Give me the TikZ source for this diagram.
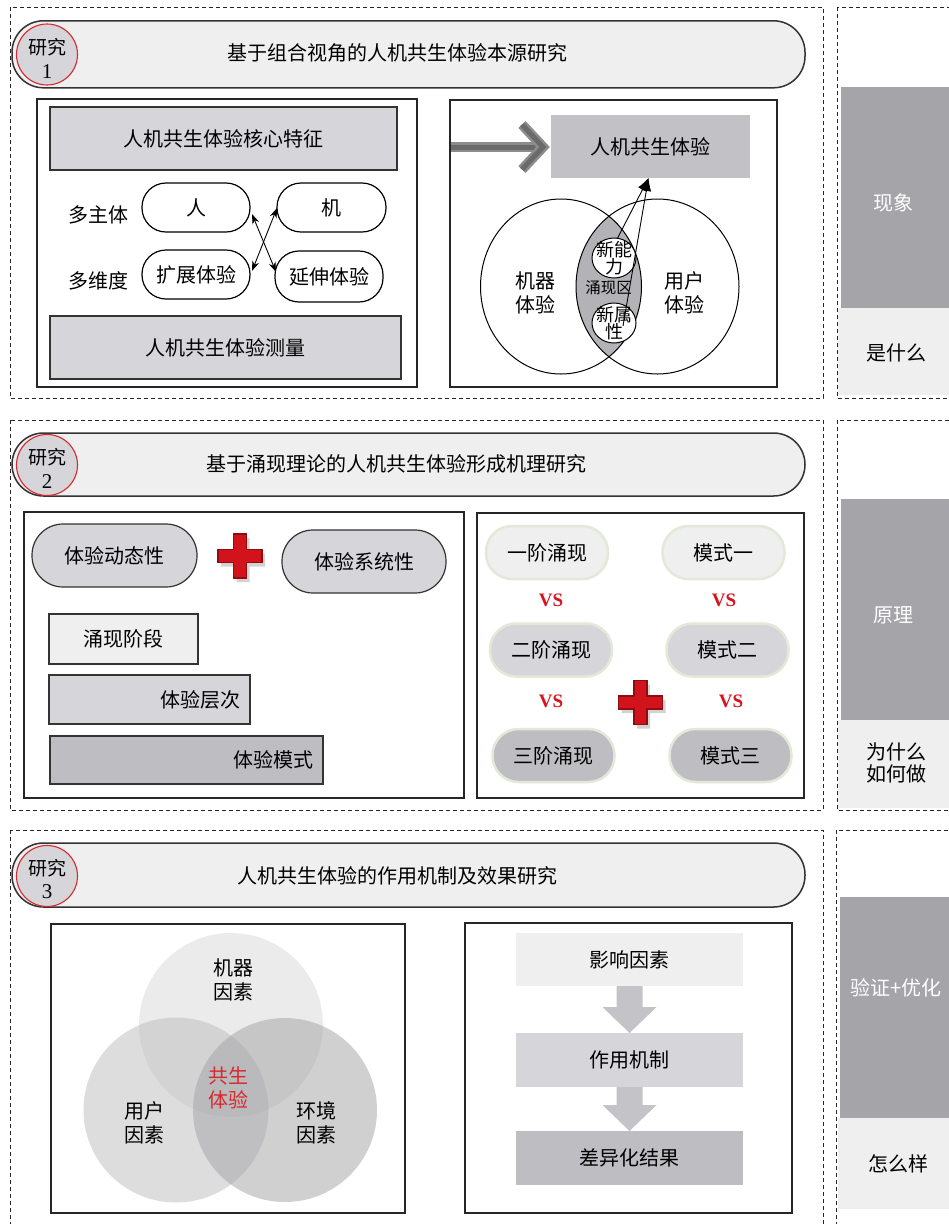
\documentclass[tikz,border=0pt]{standalone}
\usepackage{fontspec}
\setmainfont{Liberation Serif}
\newfontfamily\cjk{Noto Sans CJK SC}
\usetikzlibrary{calc,shadows,arrows.meta,shapes.geometric}
\definecolor{gA}{HTML}{EFEFEF}
\definecolor{gB}{HTML}{D6D5D9}
\definecolor{gC}{HTML}{BEBDC1}
\definecolor{gD}{HTML}{A5A4A8}
\definecolor{lensc}{HTML}{B3B2B6}
\definecolor{edge}{HTML}{333333}
\definecolor{redc}{HTML}{D42A2F}
\definecolor{vsred}{HTML}{D7141B}
\definecolor{plusred}{HTML}{D3131B}
\definecolor{plusdark}{HTML}{8E0D12}
\definecolor{pillrim}{HTML}{E2E9D8}
\definecolor{bigarrow}{HTML}{6A6A6A}
\definecolor{bigarrowl}{HTML}{8C8C8C}
\definecolor{flowarrow}{HTML}{C4C3C7}
\definecolor{vtop}{HTML}{D8D8D8}
\definecolor{vleft}{HTML}{BDBCBF}
\definecolor{vright}{HTML}{A3A2A5}
\begin{document}
\begin{tikzpicture}[x=1pt,y=-1pt,
 every node/.style={inner sep=0pt, outer sep=0pt},
 dashbox/.style={draw=black!85, line width=0.9pt, dash pattern=on 4pt off 3pt},
 panel/.style={rectangle, draw=black!85, line width=1.3pt, fill=white},
 headpill/.style={rectangle, rounded corners=31.5pt, draw=edge, line width=1.5pt, fill=gA},
 numcirc/.style={circle, minimum size=61pt, fill=gB, draw=redc, line width=1.1pt},
 numtxt/.style={align=center, font=\cjk\fontsize{19}{25}\selectfont},
 numdig/.style={font=\rmfamily\fontsize{21}{25}\selectfont},
 txt/.style={font=\cjk\fontsize{20}{24}\selectfont, align=center},
 smalltxt/.style={font=\cjk\fontsize{18}{17}\selectfont, align=center},
 box/.style={txt, rectangle, draw=edge, line width=1.2pt},
 flat/.style={txt, rectangle},
 wpill/.style={txt, rectangle, rounded corners=24pt, draw=black, line width=1.2pt, fill=white},
 gpill/.style={txt, rectangle, rounded corners=31pt, draw=edge, line width=1.2pt, fill=gB},
 spill/.style={txt, rectangle, rounded corners=26pt, draw=pillrim, line width=2.5pt},
 smallc/.style={ellipse, draw=black, line width=1pt, fill=white, minimum width=44pt, minimum height=40pt},
 vs/.style={font=\bfseries\fontsize{19}{20}\selectfont, text=vsred},
 dblarrow/.style={{Stealth[length=10pt,width=7pt]}-{Stealth[length=10pt,width=7pt]}, line width=0.9pt},
 redplus/.pic={
  \path[fill=plusred, draw=plusdark, line width=1.2pt,
        drop shadow={opacity=0.35, shadow xshift=3pt, shadow yshift=-4pt}]
   (-6.5,-22) -- (6.5,-22) -- (6.5,-6.5) -- (22,-6.5) -- (22,6.5) -- (6.5,6.5)
   -- (6.5,22) -- (-6.5,22) -- (-6.5,6.5) -- (-22,6.5) -- (-22,-6.5) -- (-6.5,-6.5) -- cycle;
 }
]
\useasboundingbox (0,0) rectangle (949,1224);

% ================= right column =================
\node[fill=gD, minimum width=120pt, minimum height=221pt] (r1a) at (901,197.5) {};
\node[fill=gA, minimum width=123pt, minimum height=87pt] (r1b) at (899.5,351.5) {};
\node[txt, text=white] (r1at) at (893,203) {现象};
\node[txt] (r1bt) at (896,353) {是什么};
\draw[dashbox] (837,7) rectangle (965,398);

\node[fill=gD, minimum width=120pt, minimum height=221pt] (r2a) at (901,609.5) {};
\node[fill=gA, minimum width=123pt, minimum height=88pt] (r2b) at (899.5,764) {};
\node[txt, text=white] (r2at) at (893,615) {原理};
\node[txt, font=\cjk\fontsize{20}{22}\selectfont] (r2bt) at (896,763) {为什么\\如何做};
\draw[dashbox] (837,420) rectangle (965,810);

\node[fill=gD, minimum width=121pt, minimum height=221pt] (r3a) at (900.5,1007.5) {};
\node[fill=gA, minimum width=123pt, minimum height=91pt] (r3b) at (899.5,1163.5) {};
\node[txt, text=white] (r3at) at (896,988) {验证+优化};
\node[txt] (r3bt) at (898,1164) {怎么样};
\draw[dashbox] (836,830) rectangle (965,1240);

% ================= section 1 =================
\draw[dashbox] (10,7) rectangle (823,398);
\node[headpill, minimum width=793pt, minimum height=67pt] (h1) at (408.5,54.3) {};
\node[numcirc] (c1) at (47,54.5) {};
\node[numtxt] (c1t) at (47,47.5) {研究};
\node[numdig] (c1d) at (47,72) {1};
\node[txt] (t1) at (397,53) {基于组合视角的人机共生体验本源研究};

% left panel
\node[panel, minimum width=380pt, minimum height=288pt] (L1) at (227,243) {};
\node[box, fill=gB, minimum width=347pt, minimum height=63pt] (A1) at (223.5,138.5) {人机共生体验核心特征};
\node[box, fill=gB, minimum width=351pt, minimum height=63pt] (B1) at (225.5,347.5) {人机共生体验测量};
\node[txt] (lab1) at (98.5,215) {多主体};
\node[txt] (lab2) at (98.5,281) {多维度};
\node[wpill, minimum width=108pt, minimum height=49pt] (p1) at (196,207.5) {人};
\node[wpill, minimum width=109pt, minimum height=49pt] (p2) at (331.5,207.5) {机};
\node[wpill, minimum width=108pt, minimum height=49pt] (p3) at (196,274.5) {扩展体验};
\node[wpill, minimum width=108pt, minimum height=51pt] (p4) at (329,276.5) {延伸体验};
\draw[dblarrow] ($(p1.east)+(2,6.5)$) -- ($(p4.west)+(1,-4.5)$);
\draw[dblarrow] ($(p3.east)+(2,-3.5)$) -- ($(p2.west)+(0,0.5)$);

% right panel
\node[panel, minimum width=327pt, minimum height=287pt] (R1) at (613.5,243.5) {};
\node[flat, fill=gC!85!gB, minimum width=199pt, minimum height=63pt] (C1) at (650.5,146.5) {人机共生体验};
\draw[bigarrowl, line width=10pt] ($(R1.north west)+(0.7,47)$) -- ($(C1.west)+(-8,0.5)$);
\draw[bigarrow, line width=5pt] ($(R1.north west)+(0.7,47)$) -- ($(C1.west)+(-8,0.5)$);
\draw[bigarrowl, line width=10pt, line join=miter] ($(C1.west)+(-29,-22)$) -- ($(C1.west)+(-8,0.5)$) -- ($(C1.west)+(-29,23)$);
\draw[bigarrow, line width=5pt, line join=miter] ($(C1.west)+(-29,-22)$) -- ($(C1.west)+(-8,0.5)$) -- ($(C1.west)+(-29,23)$);

\begin{scope}
 \clip (561,286.5) ellipse [x radius=80.5pt, y radius=87.5pt];
 \fill[lensc] (657.5,286.5) ellipse [x radius=81.5pt, y radius=87.5pt];
\end{scope}
\draw[line width=1pt] (561,286.5) ellipse [x radius=80.5pt, y radius=87.5pt];
\draw[line width=1pt] (657.5,286.5) ellipse [x radius=81.5pt, y radius=87.5pt];
\node[txt] (m1) at (535,293) {机器\\体验};
\node[txt] (u1) at (684,293) {用户\\体验};
\node[font=\cjk\fontsize{15.5}{17}\selectfont] (em) at (608.5,288) {涌现区};
\node[smallc] (n1) at (614,258) {};
\node[smallc] (n2) at (614,323) {};
\node[smalltxt] (n1t) at (614,258.5) {新能\\力};
\node[smalltxt] (n2t) at (614,323.5) {新属\\性};
\draw[line width=0.9pt, -{Latex[length=13pt,width=10pt]}] (n1.80) -- ($(C1.south)+(-2,0)$);
\coordinate (s2) at ($(n2.center)+(9,3)$);
\draw[line width=0.9pt, -{Latex[length=13pt,width=10pt]}] (s2) -- ($(C1.south)+(-2,0)$);

% ================= section 2 =================
\draw[dashbox] (10,420) rectangle (823,810);
\node[headpill, minimum width=793pt, minimum height=63pt] (h2) at (408.5,464.5) {};
\node[numcirc] (c2) at (47,465) {};
\node[numtxt] (c2t) at (47,457.5) {研究};
\node[numdig] (c2d) at (47,482) {2};
\node[txt] (t2) at (396.5,464) {基于涌现理论的人机共生体验形成机理研究};

\node[panel, minimum width=440pt, minimum height=286pt] (L2) at (244,655) {};
\node[gpill, minimum width=165pt, minimum height=63pt] (d1) at (114.5,555.5) {体验动态性};
\node[gpill, minimum width=164pt, minimum height=63pt] (d2) at (364,561.5) {体验系统性};
\pic (plus1) at (240,556) {redplus};
\node[box, fill=gA, minimum width=149pt, minimum height=50pt] (e1) at (123.5,639) {涌现阶段};
\node[box, fill=gB, minimum width=201pt, minimum height=49pt] (e2) at (149.5,699.5) {};
\node[txt, anchor=east] (e2t) at ($(e2.east)+(-10,0)$) {体验层次};
\node[box, fill=gC, minimum width=273pt, minimum height=48pt] (e3) at (186.5,760) {};
\node[txt, anchor=east] (e3t) at ($(e3.east)+(-10,0)$) {体验模式};

\node[panel, minimum width=327pt, minimum height=285pt] (R2) at (640.5,655.5) {};
\node[spill, fill=gA, minimum width=122pt, minimum height=53pt] (o1) at (547,552.5) {一阶涌现};
\node[spill, fill=gA, minimum width=122pt, minimum height=53pt] (o2) at (723.5,552.5) {模式一};
\node[spill, fill=gB, minimum width=122pt, minimum height=53pt] (o3) at (551,650) {二阶涌现};
\node[spill, fill=gB, minimum width=122pt, minimum height=53pt] (o4) at (727.5,650) {模式二};
\node[spill, fill=gC, minimum width=122pt, minimum height=53pt] (o5) at (553.5,755.5) {三阶涌现};
\node[spill, fill=gC, minimum width=122pt, minimum height=53pt] (o6) at (730.5,755.5) {模式三};
\node[vs] (v1) at (551,600) {VS};
\node[vs] (v2) at (724,600) {VS};
\node[vs] (v3) at (551,701) {VS};
\node[vs] (v4) at (731,701) {VS};
\pic (plus2) at (640.5,702.5) {redplus};

% ================= section 3 =================
\draw[dashbox] (10,830) rectangle (823,1240);
\node[headpill, minimum width=793pt, minimum height=64pt] (h3) at (408.5,875) {};
\node[numcirc] (c3) at (47,876) {};
\node[numtxt] (c3t) at (47,868) {研究};
\node[numdig] (c3d) at (47,892) {3};
\node[txt] (t3) at (397,876) {人机共生体验的作用机制及效果研究};

\node[panel, minimum width=354pt, minimum height=289pt] (L3) at (228,1068.5) {};
\node[circle, minimum size=184pt, fill=vtop, fill opacity=0.5] (vt) at (231,1025) {};
\node[circle, minimum size=185pt, fill=vleft, fill opacity=0.5] (vl) at (176,1110) {};
\node[circle, minimum size=184pt, fill=vright, fill opacity=0.5] (vr) at (285,1110) {};
\node[txt] (vtt) at (233,980) {机器\\因素};
\node[txt] (vlt) at (144,1123) {用户\\因素};
\node[txt] (vrt) at (316,1123) {环境\\因素};
\node[txt, text=redc] (vct) at (228,1088) {共生\\体验};

\node[panel, minimum width=327pt, minimum height=290pt] (R3) at (628.5,1068) {};
\node[flat, fill=gA, minimum width=227pt, minimum height=53pt] (f1) at (629.5,959.5) {影响因素};
\node[flat, fill=gB, minimum width=227pt, minimum height=54pt] (f2) at (629.5,1060) {作用机制};
\node[flat, fill=gC, minimum width=227pt, minimum height=54pt] (f3) at (629.5,1158) {差异化结果};
\fill[flowarrow] ($(f1.south)+(-13,0)$) -- ($(f1.south)+(13,0)$) -- ($(f1.south)+(13,21)$)
  -- ($(f1.south)+(27,21)$) -- (f2.north) -- ($(f1.south)+(-27,21)$) -- ($(f1.south)+(-13,21)$) -- cycle;
\fill[flowarrow] ($(f2.south)+(-13,0)$) -- ($(f2.south)+(13,0)$) -- ($(f2.south)+(13,18)$)
  -- ($(f2.south)+(27,18)$) -- (f3.north) -- ($(f2.south)+(-27,18)$) -- ($(f2.south)+(-13,18)$) -- cycle;
\end{tikzpicture}
\end{document}
